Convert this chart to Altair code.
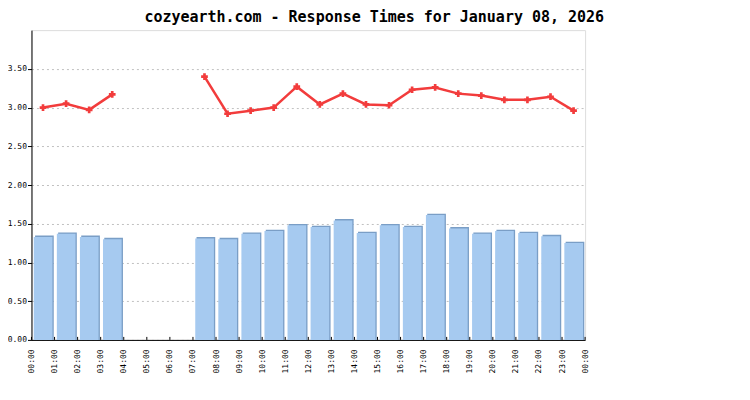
import json
import altair as alt
import pandas as pd

hours = list(range(24))
bar_values = [1.33, 1.37, 1.33, 1.30, None, None, None, 1.31, 1.30, 1.37, 1.405, 1.48,
              1.457, 1.543, 1.38, 1.48, 1.457, 1.612, 1.44, 1.37, 1.405, 1.38, 1.34, 1.25]
line_values = [3.00, 3.05, 2.97, 3.17, None, None, None, 3.40, 2.92, 2.96, 3.00, 3.27,
               3.04, 3.18, 3.04, 3.03, 3.23, 3.26, 3.18, 3.155, 3.10, 3.10, 3.14, 2.96]
tick_positions = list(range(25))
tick_labels = [f"{h % 24:02d}:00" for h in range(25)]
y_ticks = [0, 0.5, 1.0, 1.5, 2.0, 2.5, 3.0, 3.5]
title_text = "cozyearth.com - Response Times for January 08, 2026"

df = pd.DataFrame({"hour": hours, "bar": bar_values, "resp": line_values})
ticks_df = pd.DataFrame({"t": tick_positions})

FONT = "DejaVu Sans Mono"
W, H = 554, 310

x_scale = alt.Scale(domain=[0, 24], nice=False, zero=False)
y_scale = alt.Scale(domain=[0, 4], nice=False)

x_axis = alt.Axis(
    values=tick_positions,
    labelExpr=f"{json.dumps(tick_labels)}[datum.value]",
    labelAngle=270,
    labelFont=FONT,
    labelFontSize=8,
    labelColor="black",
    labelPadding=9,
    ticks=False,
    grid=False,
    domainColor="black",
    title=None,
    labelOverlap=False,
    labelFlush=False,
)
y_axis = alt.Axis(
    values=y_ticks,
    format=".2f",
    labelFont=FONT,
    labelFontSize=8,
    labelColor="black",
    labelPadding=1,
    tickSize=4,
    tickColor="black",
    domainColor="black",
    grid=True,
    gridColor="#c0c0c0",
    gridDash=[2, 3],
    title=None,
)

X = alt.X("hour:Q", scale=x_scale, axis=x_axis)
Y = alt.Y("bar:Q", scale=y_scale, axis=y_axis)

base = alt.Chart(df).transform_calculate(hour_end="datum.hour + 1")

shadow = base.mark_rect(color="#7a9ec6", xOffset=3.6, x2Offset=-0.8, yOffset=-1.4).encode(
    x=X, x2="hour_end:Q", y=Y, y2=alt.datum(0),
)
bars = base.mark_rect(color="#a6caf0", xOffset=2.3, x2Offset=-2.1).encode(
    x=X, x2="hour_end:Q", y=Y, y2=alt.datum(0),
)

line_base = alt.Chart(df).transform_calculate(mid="datum.hour + 0.5")
XM = alt.X("mid:Q", scale=x_scale, axis=x_axis)
YR = alt.Y("resp:Q", scale=y_scale, axis=y_axis)
line = line_base.mark_line(color="#f23c3c", strokeWidth=2.5,
                           invalid="break-paths-filter-domains").encode(x=XM, y=YR)
points = line_base.transform_filter("datum.resp != null").mark_point(
    shape="cross", filled=True, color="#f23c3c", size=45, opacity=1
).encode(x=XM, y=YR)

xticks = alt.Chart(ticks_df).mark_rule(color="black", strokeWidth=1).encode(
    x=alt.X("t:Q", scale=x_scale, axis=x_axis),
    y=alt.value(H),
    y2=alt.value(H - 3),
)

chart = alt.layer(shadow, bars, line, points, xticks).properties(
    width=W,
    height=H,
    autosize="none",
    padding={"left": 23.5, "top": 22, "right": 157, "bottom": 52},
    title=alt.TitleParams(
        text=title_text,
        font=FONT,
        fontSize=15,
        fontWeight="bold",
        color="black",
        anchor="start",
        frame="group",
        dx=113,
        offset=5,
    ),
).configure_view(stroke="black", strokeWidth=1).configure_axis(
    labelOverlap=False
).configure(background="white")

chart.save("out.html", embed_options={"renderer": "svg", "actions": False})
